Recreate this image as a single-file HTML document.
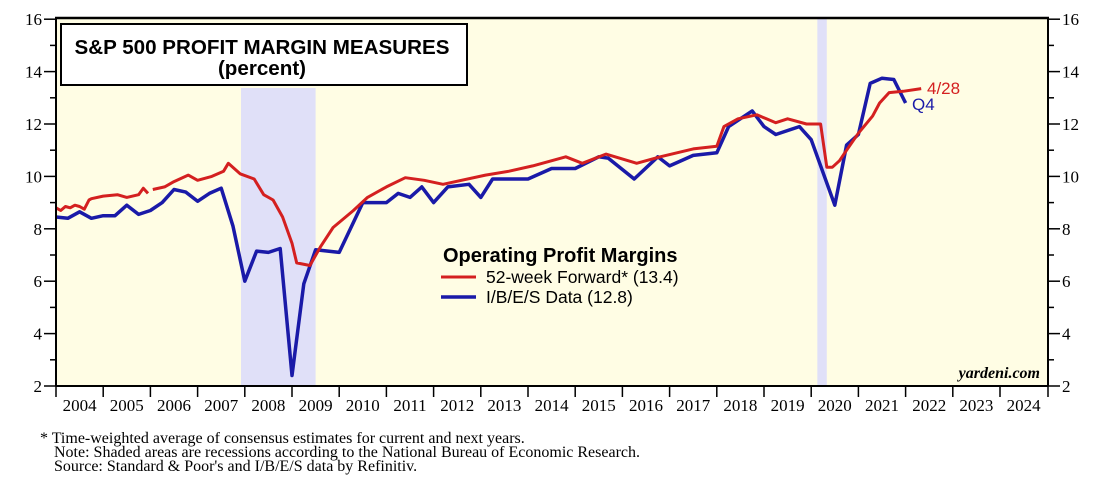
<!DOCTYPE html>
<html><head><meta charset="utf-8"><style>
body{margin:0;background:#fff;width:1119px;height:488px;overflow:hidden}
svg{display:block}
.ser{font-family:"Liberation Serif",serif}
.san{font-family:"Liberation Sans",sans-serif}
</style></head><body>
<svg width="1119" height="488" viewBox="0 0 1119 488">
<rect x="56" y="18" width="992" height="368" fill="#fffde4"/>
<g id="shades"></g>
<g id="series"></g>
<g id="axes"></g>
<rect x="61" y="24" width="406" height="61" fill="#fff" stroke="#000" stroke-width="2"/>
<text x="262" y="54" text-anchor="middle" class="san" font-size="20.6" font-weight="bold">S&amp;P 500 PROFIT MARGIN MEASURES</text>
<text x="262" y="75" text-anchor="middle" class="san" font-size="20.6" font-weight="bold">(percent)</text>
<g>
<text x="443" y="262" class="san" font-size="20" font-weight="bold">Operating Profit Margins</text>
<line x1="441" y1="277" x2="476" y2="277" stroke="#d42020" stroke-width="3"/>
<text x="486" y="283" class="san" font-size="17.5">52-week Forward* (13.4)</text>
<line x1="441" y1="297" x2="476" y2="297" stroke="#1a1aa8" stroke-width="3.5"/>
<text x="486" y="303" class="san" font-size="17.5">I/B/E/S Data (12.8)</text>
</g>
<text x="927" y="94" class="san" font-size="17" fill="#d42020">4/28</text>
<text x="912" y="110" class="san" font-size="17" fill="#1a1aa8">Q4</text>
<text x="1040" y="378" text-anchor="end" class="ser" font-size="16" font-weight="bold" font-style="italic">yardeni.com</text>
<g class="ser" font-size="16">
<text x="40" y="443">* Time-weighted average of consensus estimates for current and next years.</text>
<text x="54" y="457">Note: Shaded areas are recessions according to the National Bureau of Economic Research.</text>
<text x="54" y="471">Source: Standard &amp; Poor's and I/B/E/S data by Refinitiv.</text>
</g>
</svg>
<script>
const years=[2004,2005,2006,2007,2008,2009,2010,2011,2012,2013,2014,2015,2016,2017,2018,2019,2020,2021,2022,2023,2024];
const yTicks=[2,4,6,8,10,12,14,16];
const recessions=[[2007.92,2009.5],[2020.13,2020.33]];
const ibesX=[2004,2004.25,2004.5,2004.75,2005,2005.25,2005.5,2005.75,2006,2006.25,2006.5,2006.75,2007,2007.25,2007.5,2007.75,2008,2008.25,2008.5,2008.75,2009,2009.25,2009.5,2010,2010.5,2011,2011.25,2011.5,2011.75,2012,2012.3,2012.75,2013,2013.25,2014,2014.5,2015,2015.5,2015.7,2016.25,2016.75,2017,2017.5,2018,2018.25,2018.75,2019,2019.25,2019.75,2020,2020.5,2020.75,2021,2021.25,2021.5,2021.75,2022];
const ibesY=[8.45,8.4,8.65,8.4,8.5,8.5,8.9,8.55,8.7,9.0,9.5,9.4,9.05,9.35,9.55,8.1,6.0,7.15,7.1,7.25,2.4,5.9,7.2,7.1,9.0,9.0,9.35,9.2,9.6,9.0,9.6,9.7,9.2,9.9,9.9,10.3,10.3,10.75,10.7,9.9,10.75,10.4,10.8,10.9,11.9,12.5,11.9,11.6,11.9,11.4,8.9,11.2,11.6,13.55,13.75,13.7,12.8];
const fwdX=[2004,2004.1,2004.2,2004.3,2004.4,2004.5,2004.6,2004.7,2004.75,2005,2005.3,2005.5,2005.75,2005.85,2005.95,null,2006.05,2006.3,2006.5,2006.8,2007,2007.3,2007.55,2007.65,2007.9,2008.2,2008.4,2008.6,2008.8,2009,2009.1,2009.38,2009.6,2009.87,2010.3,2010.6,2011,2011.4,2011.8,2012.2,2013.1,2013.6,2014.1,2014.8,2015.15,2015.65,2016.3,2016.8,2017.5,2018,2018.15,2018.45,2018.85,2019.05,2019.25,2019.5,2019.9,2020.2,2020.33,2020.45,2020.6,2020.75,2021,2021.3,2021.45,2021.65,2021.95,2022.33];
const fwdY=[8.8,8.7,8.85,8.8,8.9,8.85,8.75,9.1,9.15,9.25,9.3,9.2,9.3,9.55,9.35,null,9.5,9.6,9.8,10.05,9.85,10.0,10.2,10.5,10.1,9.9,9.3,9.1,8.45,7.45,6.7,6.6,7.3,8.05,8.7,9.2,9.6,9.95,9.85,9.7,10.05,10.2,10.4,10.75,10.5,10.85,10.5,10.75,11.05,11.15,11.9,12.2,12.35,12.2,12.05,12.2,12.0,12.0,10.35,10.35,10.6,11.0,11.65,12.3,12.8,13.2,13.25,13.35];
const NS='http://www.w3.org/2000/svg';
const X0=56,YW=47.2,Y0=386,YU=26.2;
function xs(t){return X0+(t-2004)*YW;}
function ys(v){return Y0-(v-2)*YU;}
function mk(tag,attrs,parent){const e=document.createElementNS(NS,tag);for(const k in attrs)e.setAttribute(k,attrs[k]);parent.appendChild(e);return e;}
const sh=document.getElementById('shades');
recessions.forEach(r=>{
 const top=r[0]<2015?88:19;
 const e=mk('rect',{x:xs(r[0]),y:top,width:xs(r[1])-xs(r[0]),height:Y0-top,fill:'#e0e0f8'},sh);
 
 
});
function path(xa,ya){let d='',pen=false;for(let i=0;i<xa.length;i++){if(xa[i]===null){pen=false;continue;}d+=(pen?'L':'M')+xs(xa[i]).toFixed(1)+' '+ys(ya[i]).toFixed(1)+' ';pen=true;}return d;}
const sg=document.getElementById('series');
const pb=mk('path',{d:path(ibesX,ibesY),fill:'none',stroke:'#1a1aa8','stroke-width':3.5,'stroke-linejoin':'round'},sg);


const pr=mk('path',{d:path(fwdX,fwdY),fill:'none',stroke:'#d42020','stroke-width':3,'stroke-linejoin':'round'},sg);


const ax=document.getElementById('axes');
mk('line',{x1:X0-1,y1:18,x2:1049,y2:18,stroke:'#000','stroke-width':2.5},ax);
mk('line',{x1:X0,y1:18,x2:X0,y2:Y0,stroke:'#000','stroke-width':2},ax);
mk('line',{x1:1048,y1:18,x2:1048,y2:Y0,stroke:'#000','stroke-width':2},ax);
mk('line',{x1:X0,y1:Y0,x2:1048,y2:Y0,stroke:'#000','stroke-width':2},ax);
for(let v=2;v<=16;v++){
 const len=v%2===0?12:6;
 mk('line',{x1:X0-len,y1:ys(v),x2:X0,y2:ys(v),stroke:'#000','stroke-width':1.5},ax);
 mk('line',{x1:1048,y1:ys(v),x2:1048+len,y2:ys(v),stroke:'#000','stroke-width':1.5},ax);
}
yTicks.forEach(v=>{
 const l=mk('text',{x:42,y:ys(v)+6,'text-anchor':'end',class:'ser','font-size':17},ax);l.textContent=v;
 
 
 const r=mk('text',{x:1062,y:ys(v)+6,class:'ser','font-size':17},ax);r.textContent=v;
 
 
});
years.forEach(yr=>{
 mk('line',{x1:xs(yr),y1:Y0,x2:xs(yr),y2:Y0+11,stroke:'#000','stroke-width':1.5},ax);
 const t=mk('text',{x:xs(yr+0.5),y:Y0+25,'text-anchor':'middle',class:'ser','font-size':17},ax);t.textContent=yr;
 
 
});
mk('line',{x1:1048,y1:Y0,x2:1048,y2:Y0+11,stroke:'#000','stroke-width':1.5},ax);
</script>
</body></html>
